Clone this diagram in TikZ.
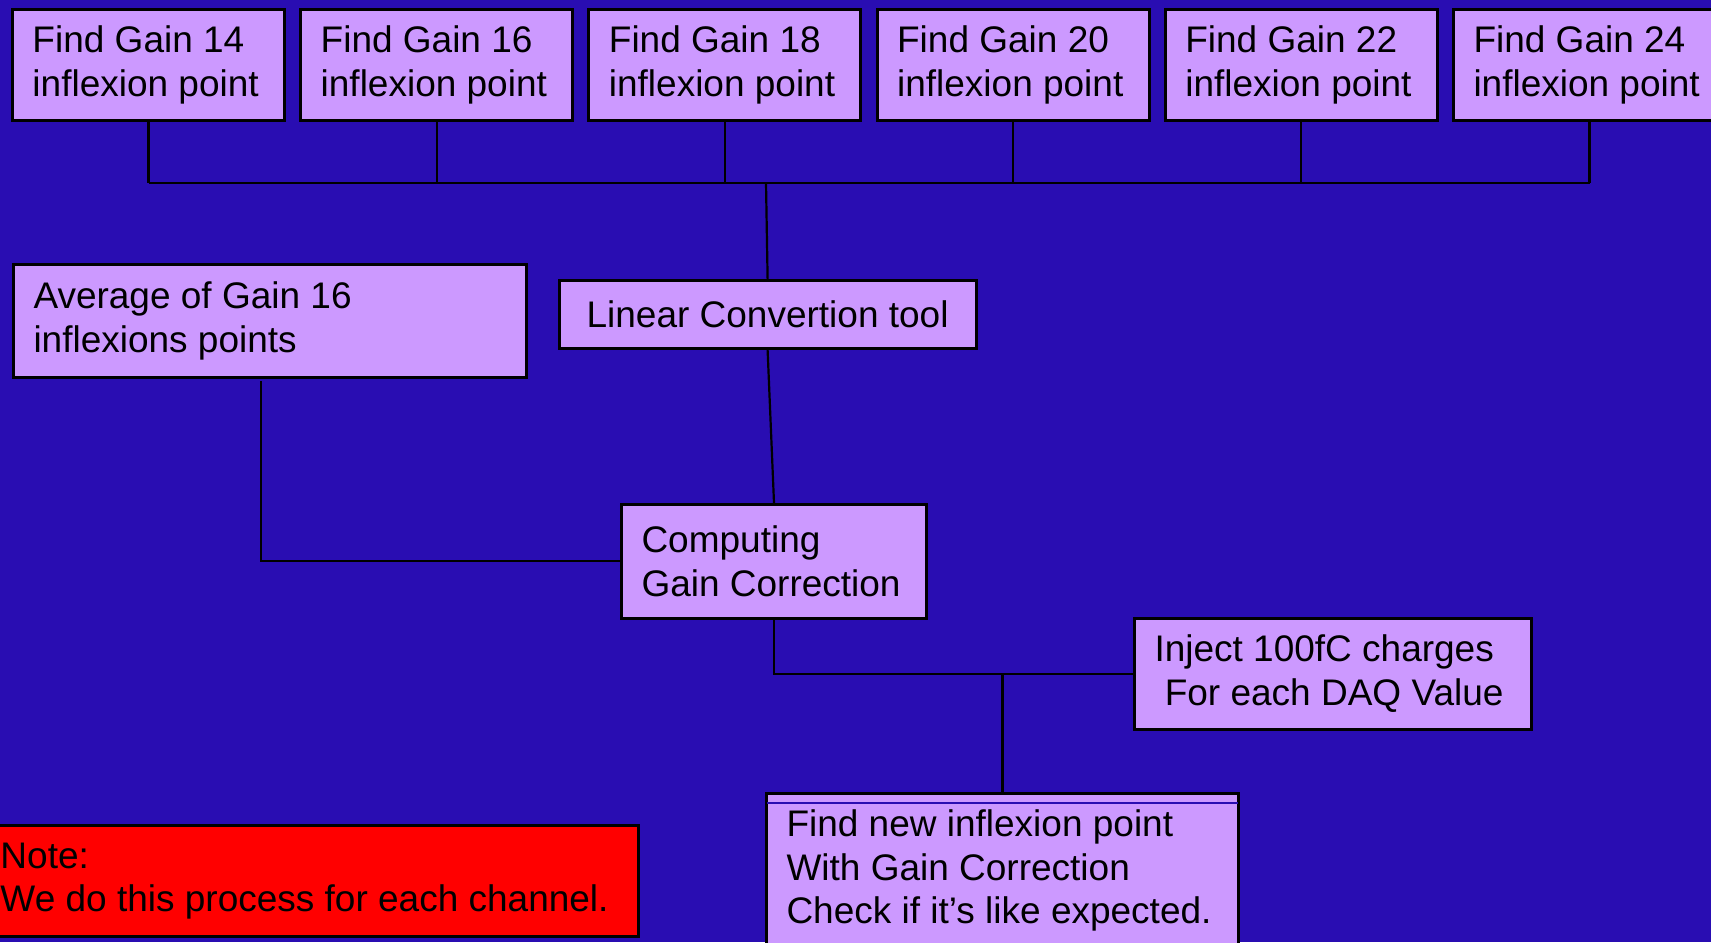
\documentclass[tikz,border=0pt]{standalone}
\usepackage{fontspec}
\setmainfont{Liberation Sans}
\usetikzlibrary{positioning}
\definecolor{slideblue}{RGB}{41,13,178}
\definecolor{boxlilac}{RGB}{204,153,255}
\definecolor{noteRed}{RGB}{255,0,0}
\tikzset{
  flowbox/.style={draw=black, line width=1.5pt, fill=boxlilac, anchor=north west,
    align=flush left, inner xsep=10pt, inner ysep=0pt,
    font=\fontsize{18.5}{21.8}\selectfont},
  gainbox/.style={flowbox, text width=116pt, minimum height=55.5pt},
  link/.style={line width=1.1pt},
}

\begin{document}
\begin{tikzpicture}[x=0.5pt,y=-0.5pt]
  \fill[slideblue] (0,0) rectangle (1711,942);
  \clip (0,0) rectangle (1711,942);

  % one box per gain
  \node[gainbox] (g14) at (11,8) {Find Gain 14\\inflexion point};
  \node[gainbox, right=6.6pt of g14] (g16) {Find Gain 16\\inflexion point};
  \node[gainbox, right=6.6pt of g16] (g18) {Find Gain 18\\inflexion point};
  \node[gainbox, right=6.6pt of g18] (g20) {Find Gain 20\\inflexion point};
  \node[gainbox, right=6.6pt of g20] (g22) {Find Gain 22\\inflexion point};
  \node[gainbox, right=6.6pt of g22] (g24) {Find Gain 24\\inflexion point};

  \node[flowbox, align=flush center, text width=188.5pt, minimum height=34pt] (lin) at (557.6,279) {Linear Convertion tool};
  \node[flowbox, text width=236.5pt, minimum height=56.5pt] (avg) at (12,263) {Average of Gain 16\\inflexions points};
  \node[flowbox, text width=132.5pt, minimum height=56.75pt] (comp) at (620,503) {Computing\\Gain Correction};
  \node[flowbox, text width=178.5pt, minimum height=55.75pt] (inj) at (1133,616.5) {Inject 100fC charges\\\hspace*{.278em}For each DAQ Value};
  \node[flowbox, text width=216pt, minimum height=77pt] (find) at (765,792) {Find new inflexion point\\With Gain Correction\\Check if it’s like expected.};
  \draw[slideblue, line width=0.6pt] ([xshift=1pt,yshift=-5.5pt]find.north west) -- ([xshift=-1pt,yshift=-5.5pt]find.north east);
  \node[flowbox, fill=noteRed, text width=309pt, minimum height=55.5pt] (note) at (-21,824) {Note:\\We do this process for each channel.};

  % connectors
  \coordinate (bus) at (766,183);
  \draw[link]
    (g14.south) -- (g14.south |- bus)
    (g16.south) -- (g16.south |- bus)
    (g18.south) -- (g18.south |- bus)
    (g20.south) -- (g20.south |- bus)
    (g22.south) -- (g22.south |- bus)
    (g24.south) -- (g24.south |- bus)
    ;
  \draw[link] (g14.south |- bus) -- (g24.south |- bus);
  \draw[link] (bus) -- (lin.north);
  \draw[link] (lin.south) -- (comp.north);
  \coordinate (avgfoot) at (261,381);
  \draw[link] (avgfoot) |- (comp.west);
  \draw[link] (comp.south) |- (inj.west);
  \draw[link] (find.north) -- (find.north |- inj.west);
\end{tikzpicture}
\end{document}
